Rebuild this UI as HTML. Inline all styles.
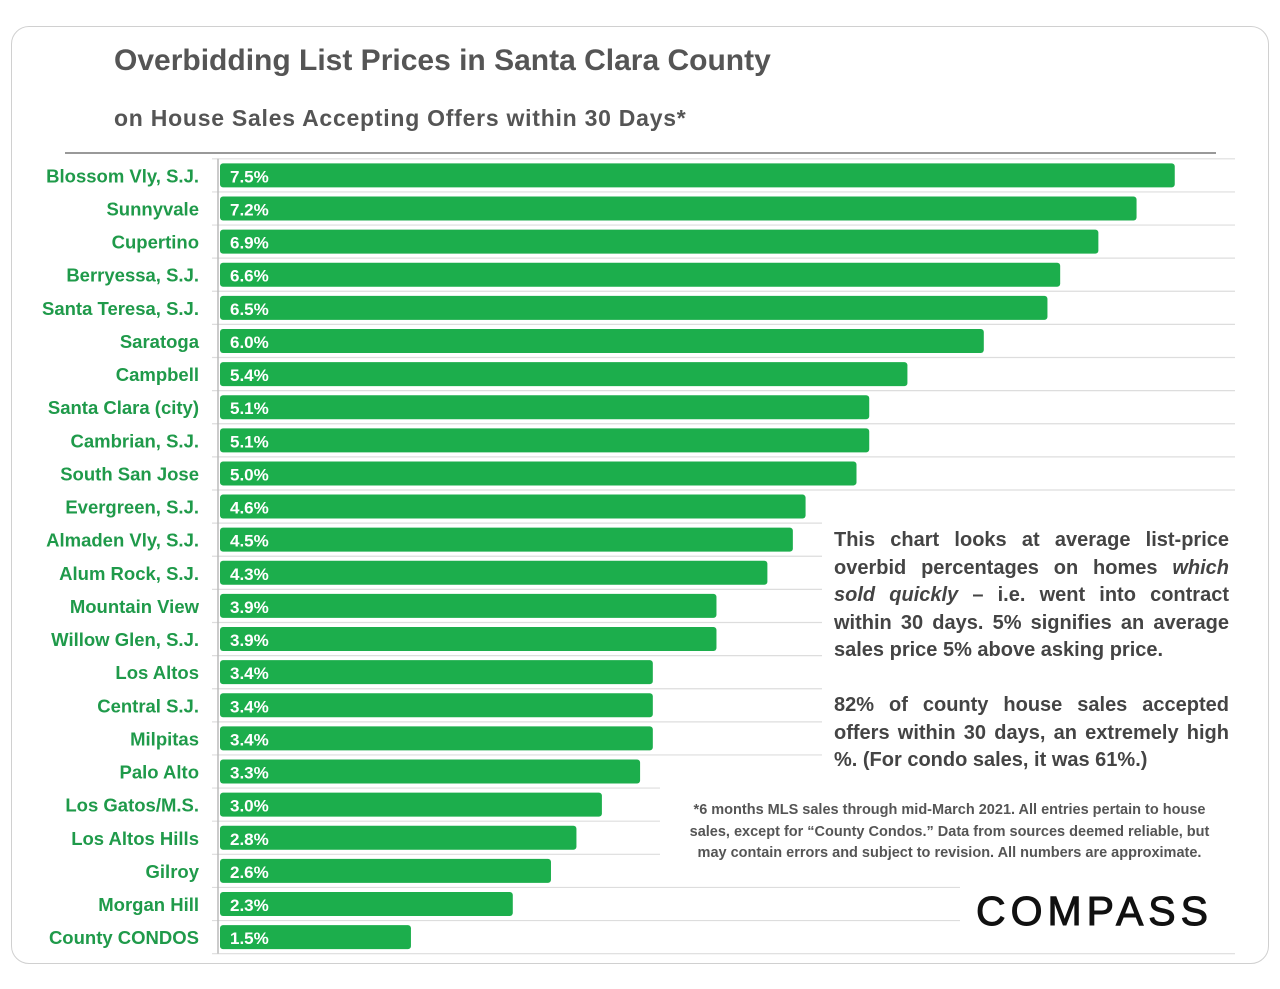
<!DOCTYPE html>
<html><head><meta charset="utf-8">
<style>
body{margin:0;background:#fff;width:1280px;height:989px;position:relative;overflow:hidden;font-family:"Liberation Sans",sans-serif}
.card{position:absolute;left:11px;top:26px;width:1256px;height:936px;border:1.5px solid #d0d0d0;border-radius:18px}
.t{position:absolute;color:#555;font-weight:bold}
.box{position:absolute;background:#fff;color:#444;font-weight:bold}
.j{text-align:justify;text-align-last:justify}
</style></head><body>
<div class="card"></div>
<div class="t" style="left:114px;top:44px;font-size:30px;letter-spacing:0px">Overbidding List Prices in Santa Clara County</div>
<div class="t" style="left:114px;top:105px;font-size:23px;letter-spacing:0.75px">on House Sales Accepting Offers within 30 Days*</div>
<div style="position:absolute;left:65px;top:152px;width:1151px;height:2px;background:#999"></div>
<svg id="chart" width="1280" height="989" style="position:absolute;left:0;top:0"></svg>
<div class="box" style="left:822px;top:522px;width:413px;height:265px;padding:5px 6px 0 12px;box-sizing:border-box;font-size:20px;line-height:27.6px">
<div class="j">This chart looks at average list-price overbid percentages on homes <i>which sold quickly</i> – i.e. went into contract within 30 days. 5% signifies an average</div><div style="text-align:left">sales price 5% above asking price.</div>
<div class="j" style="margin-top:27px">82% of county house sales accepted offers within 30 days, an extremely high</div><div>%. (For condo sales, it was 61%.)</div>
</div>
<div class="box" style="left:660px;top:787px;width:575px;height:88px;padding:13px 10px 0 14px;box-sizing:border-box;font-size:14.5px;line-height:21.6px;color:#555;text-align:center">*6 months MLS sales through mid-March 2021. All entries pertain to house sales, except for “County Condos.” Data from sources deemed reliable, but<br>may contain errors and subject to revision. All numbers are approximate.</div>
<div class="box" style="left:960px;top:880px;width:275px;height:70px;font-size:41px;color:#111;font-weight:normal;letter-spacing:5px;padding:8px 0 0 16px;box-sizing:border-box;-webkit-text-stroke:1px #111">COMPASS</div>
<script>
const categories=["Blossom Vly, S.J.","Sunnyvale","Cupertino","Berryessa, S.J.","Santa Teresa, S.J.","Saratoga","Campbell","Santa Clara (city)","Cambrian, S.J.","South San Jose","Evergreen, S.J.","Almaden Vly, S.J.","Alum Rock, S.J.","Mountain View","Willow Glen, S.J.","Los Altos","Central S.J.","Milpitas","Palo Alto","Los Gatos/M.S.","Los Altos Hills","Gilroy","Morgan Hill","County CONDOS"];
const values=[7.5,7.2,6.9,6.6,6.5,6.0,5.4,5.1,5.1,5.0,4.6,4.5,4.3,3.9,3.9,3.4,3.4,3.4,3.3,3.0,2.8,2.6,2.3,1.5];
const labels=values.map(v=>v.toFixed(1)+"%");
const svg=document.getElementById('chart');const NS="http://www.w3.org/2000/svg";
const x0=220,pxPer=127.3,top0=158.8,step=33.12,bh=24;
const xs=v=>x0+v*pxPer;const yc=i=>top0+step*(i+0.5);
function mk(t,a){const e=document.createElementNS(NS,t);for(const k in a)e.setAttribute(k,a[k]);svg.appendChild(e);return e;}
for(let i=0;i<=categories.length;i++){
const g=mk('line',{x1:212,x2:1235,y1:top0+step*i,y2:top0+step*i,stroke:'#ddd','stroke-width':1.2});

}
const ax=mk('line',{x1:218,x2:218,y1:top0,y2:top0+step*categories.length,stroke:'#bbb','stroke-width':1.5});


categories.forEach((c,i)=>{
const r=mk('rect',{x:x0,y:yc(i)-bh/2,width:xs(values[i])-x0,height:bh,rx:3,fill:'#1cae4c'});


const v=mk('text',{x:x0+10,y:yc(i)+7,fill:'#fff','font-size':17,'font-weight':'bold','font-family':'Liberation Sans'});v.textContent=labels[i];


const l=mk('text',{x:199,y:yc(i)+7,fill:'#1f9a4a','font-size':18.5,'font-weight':'bold','text-anchor':'end','font-family':'Liberation Sans'});l.textContent=c;


});
</script>
</body></html>
